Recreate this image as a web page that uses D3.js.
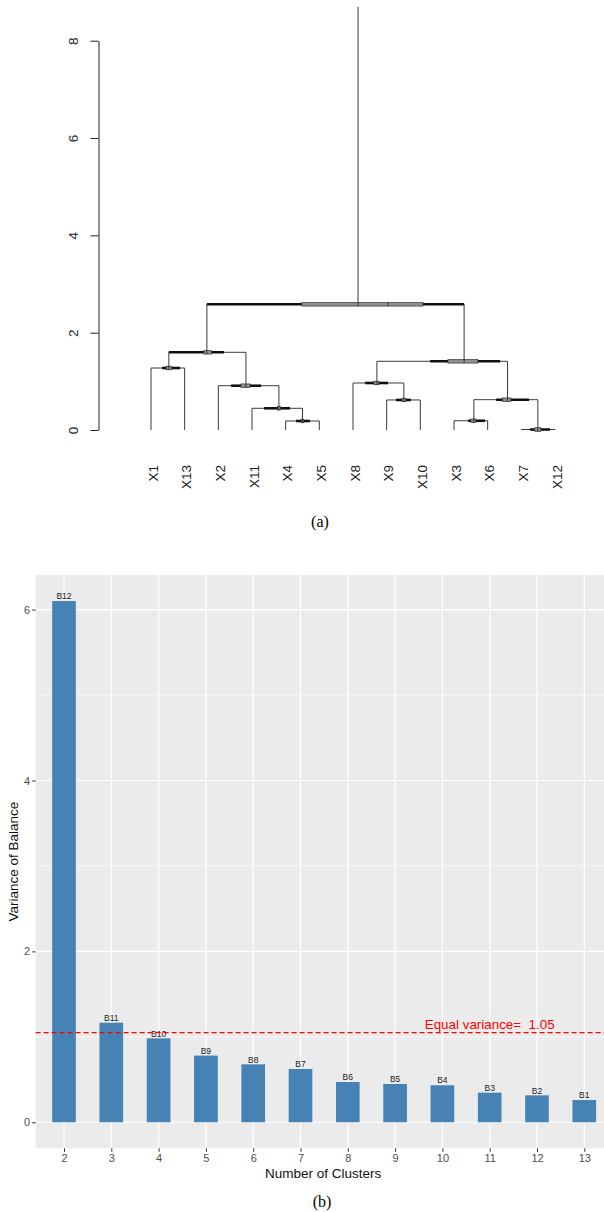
<!DOCTYPE html>
<html>
<head>
<meta charset="utf-8">
<script src="https://cdn.jsdelivr.net/npm/d3@7"></script>
<style>
body { margin: 0; background: #fff; }
svg { display: block; }
text { font-family: "Liberation Sans", Arial, sans-serif; }
.cap { font-family: "Liberation Serif", "Times New Roman", serif; }
</style>
</head>
<body>
<svg id="chart"></svg>
<script>
// ---------- (a) dendrogram data ----------
const leaves = ["X1", "X13", "X2", "X11", "X4", "X5", "X8", "X9", "X10", "X3", "X6", "X7", "X12"];
const heightTicks = [0, 2, 4, 6, 8];
// merges: left child, right child, height  (nodes named n1..n12 in this order)
const merges = [
  ["X7", "X12", 0.01],
  ["X4", "X5", 0.185],
  ["X3", "X6", 0.19],
  ["X11", "n2", 0.446],
  ["X9", "X10", 0.617],
  ["n3", "n1", 0.623],
  ["X2", "n4", 0.91],
  ["X8", "n5", 0.966],
  ["X1", "X13", 1.274],
  ["n8", "n6", 1.412],
  ["n9", "n7", 1.597],
  ["n11", "n10", 2.583]
];
// where each node sits along the leaf axis (leaf units, 1 = first leaf)
const nodePos = [12.49, 5.50, 10.59, 4.80, 8.51, 11.59, 3.82, 7.71, 1.53, 10.30, 2.66, 7.15];
// spread of each node along the leaf axis: [lo, q1, median, q3, hi]
const nodeSpread = [
  [12.26, 12.40, 12.49, 12.58, 12.85],
  [5.31, 5.46, 5.50, 5.54, 5.72],
  [10.42, 10.50, 10.59, 10.65, 10.92],
  [4.36, 4.76, 4.80, 4.85, 5.13],
  [8.28, 8.45, 8.51, 8.57, 8.72],
  [11.25, 11.44, 11.59, 11.69, 12.23],
  [3.38, 3.67, 3.82, 3.94, 4.27],
  [7.36, 7.62, 7.71, 7.77, 8.04],
  [1.33, 1.45, 1.53, 1.62, 1.86],
  [9.29, 9.82, 10.30, 10.71, 11.37],
  [1.53, 2.57, 2.66, 2.80, 3.17],
  [2.66, 5.48, 8.04, 9.08, 10.30]
];
const rootTop = 8.7;

// ---------- (b) bar chart data ----------
const clusters = ["2", "3", "4", "5", "6", "7", "8", "9", "10", "11", "12", "13"];
const variances = [6.10, 1.165, 0.982, 0.78, 0.678, 0.623, 0.471, 0.448, 0.433, 0.346, 0.315, 0.26];
const balanceNames = ["B12", "B11", "B10", "B9", "B8", "B7", "B6", "B5", "B4", "B3", "B2", "B1"];
const balanceTicks = [0, 2, 4, 6];
const balanceMinor = [1, 3, 5];
const equalVariance = 1.05;

const width = 604, height = 1212;
const svg = d3.select("#chart").attr("width", width).attr("height", height);
svg.append("rect").attr("width", width).attr("height", height).attr("fill", "#fff");

// ================= (a) =================
const xLeaf = d3.scaleLinear().domain([1, leaves.length]).range([151, 555]);
const yDen = d3.scaleLinear().domain([0, 8]).range([430, 40.7]);
const den = svg.append("g");

const nodeIndex = id => +id.slice(1) - 1;
const childX = c => c.startsWith("n") ? xLeaf(nodePos[nodeIndex(c)]) : xLeaf(leaves.indexOf(c) + 1);
const childH = c => c.startsWith("n") ? merges[nodeIndex(c)][2] : 0;

const lineColor = "#3a3a3a";
merges.forEach(([a, b, h]) => {
  [a, b].forEach(c => {
    den.append("line")
      .attr("x1", childX(c)).attr("x2", childX(c))
      .attr("y1", yDen(childH(c))).attr("y2", yDen(h))
      .attr("stroke", lineColor).attr("stroke-width", 1);
  });
  den.append("line")
    .attr("x1", childX(a)).attr("x2", childX(b))
    .attr("y1", yDen(h)).attr("y2", yDen(h))
    .attr("stroke", lineColor).attr("stroke-width", 1);
});
// root line up to the top
const rootI = merges.length - 1;
den.append("line")
  .attr("x1", xLeaf(nodePos[rootI])).attr("x2", xLeaf(nodePos[rootI]))
  .attr("y1", yDen(merges[rootI][2])).attr("y2", yDen(rootTop))
  .attr("stroke", lineColor).attr("stroke-width", 1);

// spread marks on each node
merges.forEach(([a, b, h], i) => {
  const [lo, q1, med, q3, hi] = nodeSpread[i];
  const y = yDen(h);
  den.append("line")
    .attr("x1", xLeaf(lo)).attr("x2", xLeaf(hi))
    .attr("y1", y).attr("y2", y)
    .attr("stroke", "#111").attr("stroke-width", 2.6);
  den.append("rect")
    .attr("x", xLeaf(q1)).attr("width", Math.max(xLeaf(q3) - xLeaf(q1), 2))
    .attr("y", y - 1.8).attr("height", 3.6)
    .attr("fill", "#8f8f8f").attr("stroke", "#222").attr("stroke-width", 0.6);
  den.append("line")
    .attr("x1", xLeaf(med)).attr("x2", xLeaf(med))
    .attr("y1", y - 1.8).attr("y2", y + 1.8)
    .attr("stroke", "#222").attr("stroke-width", 0.8);
});
// redraw the root vertical over its box
den.append("line")
  .attr("x1", xLeaf(nodePos[rootI])).attr("x2", xLeaf(nodePos[rootI]))
  .attr("y1", yDen(merges[rootI][2]) - 1.8).attr("y2", yDen(merges[rootI][2]) + 1.8)
  .attr("stroke", lineColor).attr("stroke-width", 1);

// y axis
const denAxis = den.append("g")
  .attr("transform", "translate(98.5,0)")
  .call(d3.axisLeft(yDen).tickValues(heightTicks).tickFormat(d3.format("d")).tickSize(8).tickSizeOuter(0));
denAxis.select(".domain").attr("stroke", "#222");
denAxis.selectAll(".tick line").attr("stroke", "#222");
denAxis.selectAll(".tick text")
  .attr("x", null).attr("dy", null)
  .attr("transform", "translate(-21,0) rotate(-90)")
  .attr("text-anchor", "middle")
  .attr("fill", "#222")
  .style("font-size", "13.5px");

// leaf labels
den.selectAll("text.leaf")
  .data(leaves)
  .enter().append("text")
  .attr("class", "leaf")
  .attr("transform", (d, i) => `translate(${xLeaf(i + 1) + 2},465) rotate(-90)`)
  .attr("dy", "0.35em")
  .attr("text-anchor", "end")
  .attr("fill", "#222")
  .style("font-size", "13.5px")
  .text(d => d);

svg.append("text").attr("class", "cap")
  .attr("x", 320).attr("y", 527)
  .attr("text-anchor", "middle")
  .style("font-size", "16px")
  .text("(a)");

// ================= (b) =================
const xBar = d3.scalePoint().domain(clusters).range([64, 584.3]);
const step = xBar.step();
const yBar = d3.scaleLinear().domain([-0.305, 6.405]).range([1148.3, 575]);
const panelL = xBar(clusters[0]) - 0.6 * step;
const panelR = xBar(clusters[clusters.length - 1]) + 0.6 * step;

const bar = svg.append("g");
bar.append("rect")
  .attr("x", panelL).attr("y", yBar.range()[1])
  .attr("width", panelR - panelL).attr("height", yBar.range()[0] - yBar.range()[1])
  .attr("fill", "#EBEBEB");

bar.selectAll("line.minor")
  .data(balanceMinor).enter().append("line")
  .attr("x1", panelL).attr("x2", panelR)
  .attr("y1", d => yBar(d)).attr("y2", d => yBar(d))
  .attr("stroke", "#fff").attr("stroke-width", 0.6);
bar.selectAll("line.major")
  .data(balanceTicks).enter().append("line")
  .attr("x1", panelL).attr("x2", panelR)
  .attr("y1", d => yBar(d)).attr("y2", d => yBar(d))
  .attr("stroke", "#fff").attr("stroke-width", 1.2);
bar.selectAll("line.vgrid")
  .data(clusters).enter().append("line")
  .attr("x1", d => xBar(d)).attr("x2", d => xBar(d))
  .attr("y1", yBar.range()[1]).attr("y2", yBar.range()[0])
  .attr("stroke", "#fff").attr("stroke-width", 1.2);

const barW = step * 0.5;
bar.selectAll("rect.bar")
  .data(variances).enter().append("rect")
  .attr("class", "bar")
  .attr("x", (d, i) => xBar(clusters[i]) - barW / 2)
  .attr("y", d => yBar(d))
  .attr("width", barW)
  .attr("height", d => yBar(0) - yBar(d))
  .attr("fill", "steelblue");

bar.selectAll("text.blab")
  .data(variances).enter().append("text")
  .attr("x", (d, i) => xBar(clusters[i]))
  .attr("y", d => yBar(d) - 1.8)
  .attr("text-anchor", "middle")
  .attr("fill", "#222")
  .style("font-size", "8.5px")
  .text((d, i) => balanceNames[i]);

bar.append("line")
  .attr("x1", panelL).attr("x2", panelR)
  .attr("y1", yBar(equalVariance)).attr("y2", yBar(equalVariance))
  .attr("stroke", "red").attr("stroke-width", 1.2)
  .attr("stroke-dasharray", "5,3");
bar.append("text")
  .attr("x", xBar("11")).attr("y", yBar(equalVariance) - 3.5)
  .attr("text-anchor", "middle")
  .attr("fill", "red")
  .attr("xml:space", "preserve")
  .style("white-space", "pre")
  .style("font-size", "13.4px")
  .text("Equal variance=  " + equalVariance.toFixed(2));

// axes
const yAx = bar.append("g")
  .attr("transform", `translate(${panelL},0)`)
  .call(d3.axisLeft(yBar).tickValues(balanceTicks).tickFormat(d3.format("d")).tickSize(3.5).tickPadding(2));
yAx.select(".domain").remove();
yAx.selectAll(".tick line").attr("stroke", "#333");
yAx.selectAll(".tick text").attr("fill", "#4D4D4D").style("font-size", "11px");

const xAx = bar.append("g")
  .attr("transform", `translate(0,${yBar.range()[0]})`)
  .call(d3.axisBottom(xBar).tickSize(3.5).tickPadding(2));
xAx.select(".domain").remove();
xAx.selectAll(".tick line").attr("stroke", "#333");
xAx.selectAll(".tick text").attr("fill", "#4D4D4D").style("font-size", "11px");

bar.append("text")
  .attr("x", (panelL + panelR) / 2 - 1).attr("y", 1178)
  .attr("text-anchor", "middle")
  .attr("fill", "#111")
  .style("font-size", "13.5px")
  .text("Number of Clusters");
bar.append("text")
  .attr("transform", `translate(18,${(yBar.range()[0] + yBar.range()[1]) / 2}) rotate(-90)`)
  .attr("text-anchor", "middle")
  .attr("fill", "#111")
  .style("font-size", "13.5px")
  .text("Variance of Balance");

svg.append("text").attr("class", "cap")
  .attr("x", 322).attr("y", 1207)
  .attr("text-anchor", "middle")
  .style("font-size", "16px")
  .text("(b)");
</script>
</body>
</html>
